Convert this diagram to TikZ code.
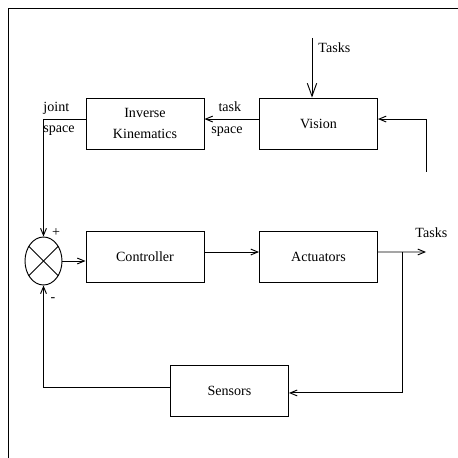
\documentclass[tikz,border=0pt]{standalone}
\usepackage{fontspec}
\setmainfont{Liberation Serif}
\usetikzlibrary{arrows.meta,shapes.geometric}

\begin{document}
\begin{tikzpicture}
	[x=0.03cm, y=-0.03cm, line width=0.8pt,
	font=\fontsize{12}{18.5}\selectfont,
	>={Straight Barb[length=6pt,width=5pt]},
	block/.style={draw, minimum width=3.54cm, minimum height=1.53cm, align=center},
	sum node/.style={ellipse, draw, minimum width=1.11cm, minimum height=1.44cm, inner sep=0pt},
	label text/.style={inner sep=0pt, align=left, anchor=west},
	long tip/.style={-{Straight Barb[length=11pt,width=8pt]}}]
	\useasboundingbox (0,0) rectangle (458,458);
	% frame
	\draw (8,458) -- (8,8) -- (458,8);
	% blocks
	\node[block]  (ik) at (145,123.5) {Inverse\\Kinematics};
	\node[block]  (vision) at (318.5,123.5) {Vision};
	\node[block]  (ctrl) at (145,257) {Controller};
	\node[block]  (act) at (318.5,257) {Actuators};
	\node[block]  (sens) at (229.5,390.5) {Sensors};
	\node[sum node] (sum) at (43.5,261) {};
	\draw (sum.45) -- (sum.225);
	\draw (sum.135) -- (sum.315);
	% free ends
	\coordinate (tin) at (312,38);
	\coordinate (rin) at (426,172);
	\coordinate (tout) at (426,252);
	\coordinate (br) at (402,252);
	% labels
	\node[label text] (tasksin) at (318,48) {Tasks};
	\node[label text] (tasksout) at (415,233) {Tasks};
	\node[label text] (joint) at (43,119) {joint\\space};
	\node[label text] (task) at (211,119) {\hspace*{6pt}task\\space};
	\node[inner sep=0pt] (plus) at (56,233) {+};
	\node[inner sep=0pt] (minus) at (53,300) {-};
	% connectors
	\draw[long tip] (tin) -- (tin |- vision.north);
	\draw[->] (rin) |- ([yshift=3.8pt]vision.east);
	\draw[->] ([yshift=3.8pt]vision.west) -- ([yshift=3.8pt]ik.east);
	\draw[->] ([yshift=3.8pt]ik.west) -| (sum.north);
	\draw[->] (sum.east) -- (sum.east -| ctrl.west);
	\draw[->] ([yshift=4.25pt]ctrl.east) -- ([yshift=4.25pt]act.west);
	\draw[->] ([yshift=4.25pt]act.east) -- (tout);
	\draw[->] (br) |- ([yshift=-2.1pt]sens.east);
	\draw[->] ([yshift=3pt]sens.west) -| (sum.south);
\end{tikzpicture}
\end{document}
